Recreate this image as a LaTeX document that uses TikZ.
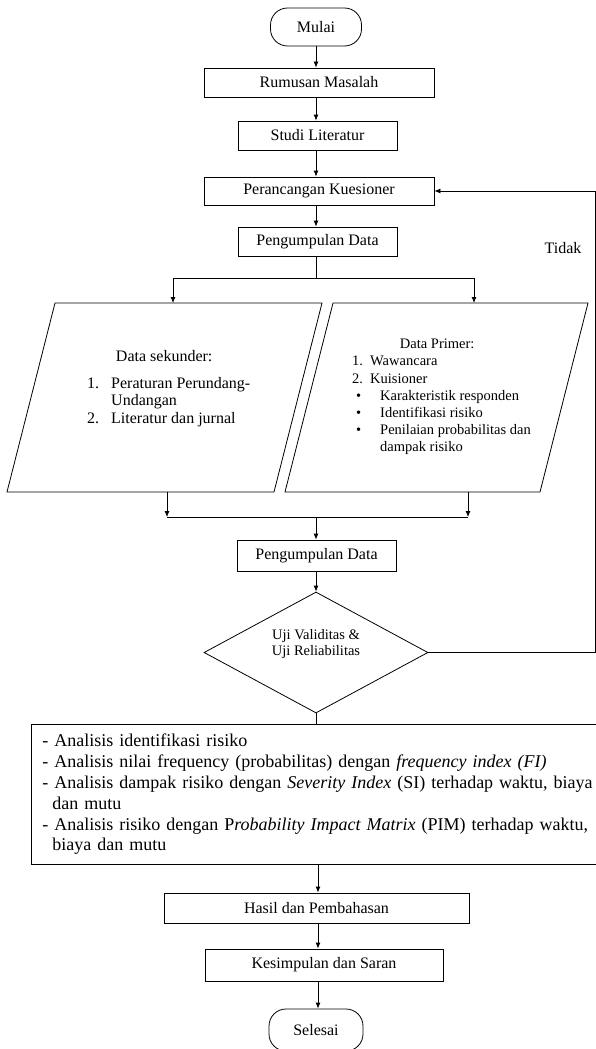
\documentclass[tikz,border=0pt]{standalone}
\usepackage{fontspec}
\setmainfont{Liberation Serif}
\usetikzlibrary{shapes.geometric,arrows.meta}
\begin{document}
\begin{tikzpicture}[x=1pt,y=-1pt,
  ln/.style={line width=0.8pt},
  box/.style={draw, ln, inner sep=0pt, font=\fontsize{16}{18}\selectfont},
  term/.style={box, rounded corners=17pt},
  arr/.style={ln, -{Latex[length=6pt,width=5pt]}},
  txt/.style={inner sep=0pt, align=left, anchor=west}]
\useasboundingbox (0,0) rectangle (596,1049);

\coordinate (ax) at (316,0);
\coordinate (ax2) at (318,0);

% top chain
\node[term, minimum width=91, minimum height=38] (mulai) at (316,27) {Mulai};
\node[box, minimum width=230, minimum height=29] (rumusan) at (319,82.5) {Rumusan Masalah};
\node[box, minimum width=159, minimum height=29] (studi) at (317.5,135.5) {Studi Literatur};
\node[box, minimum width=230, minimum height=28] (peran) at (319,191) {Perancangan Kuesioner};
\node[box, minimum width=159, minimum height=29] (peng1) at (317.5,241.5) {Pengumpulan Data};
\node[inner sep=0pt, font=\fontsize{16}{18}\selectfont] (tidak) at (563,248) {Tidak};

\draw[arr] (ax |- mulai.south) -- (ax |- rumusan.north);
\draw[arr] (ax |- rumusan.south) -- (ax |- studi.north);
\draw[arr] (ax |- studi.south) -- (ax |- peran.north);
\draw[arr] (ax |- peran.south) -- (ax |- peng1.north);

% split
\coordinate (split) at (316,278);
\coordinate (sl) at (173,278);
\coordinate (sr) at (474,278);
\coordinate (sekIn) at (173,303);
\coordinate (priIn) at (474,303);
\draw[ln] (ax |- peng1.south) -- (split);
\draw[ln] (sl) -- (sr);
\draw[arr] (sl) -- (sekIn);
\draw[arr] (sr) -- (priIn);

% parallelograms
\draw[ln] (55,303) -- (322,303) -- (274,492) -- (7,492) -- cycle;
\draw[ln] (333,303) -- (588,303) -- (540,492) -- (285,492) -- cycle;

\node[txt, font=\fontsize{16}{17.5}\selectfont] (sekunder) at (87,389)
 {\begin{tabular}{@{}p{24pt}@{}l@{}}
  \multicolumn{2}{@{}l@{}}{\makebox[154pt][c]{Data sekunder:}}\\[9pt]
  1. & Peraturan Perundang-\\
     & Undangan\\
  2. & Literatur dan jurnal
  \end{tabular}};

\node[txt, font=\fontsize{14.5}{17.2}\selectfont] (primer) at (352,397)
 {\makebox[170pt][c]{Data Primer:}\\
  \makebox[18pt][l]{1.}Wawancara\\
  \makebox[18pt][l]{2.}Kuisioner\\
  \makebox[4pt][l]{}\makebox[24pt][l]{\textbullet}Karakteristik responden\\
  \makebox[4pt][l]{}\makebox[24pt][l]{\textbullet}Identifikasi risiko\\
  \makebox[4pt][l]{}\makebox[24pt][l]{\textbullet}Penilaian probabilitas dan\\
  \makebox[28pt][l]{}dampak risiko};

% join
\coordinate (sekOut) at (167,492);
\coordinate (priOut) at (468,492);
\coordinate (jl) at (167,517);
\coordinate (jr) at (468,517);
\coordinate (jc) at (316,517);
\draw[arr] (sekOut) -- (jl);
\draw[arr] (priOut) -- (jr);
\draw[ln] (jl) -- (jr);

\node[box, minimum width=159, minimum height=31] (peng2) at (316.5,555.5) {Pengumpulan Data};
\draw[arr] (jc) -- (jc |- peng2.north);

% decision
\node[draw, ln, diamond, aspect=1.85, minimum width=224, minimum height=121, inner sep=0pt] (uji) at (316,652.5) {};
\node[inner sep=0pt, align=center, font=\fontsize{14.5}{16}\selectfont] (ujitxt) at (316,644) {Uji Validitas \&\\Uji Reliabilitas};
\draw[arr] (ax |- peng2.south) -- (uji.north);

% feedback loop
\coordinate (fbr) at (595.8,652.5);
\draw[arr] (uji.east) -- (fbr) -- (fbr |- peran.east) -- (peran.east);

% analysis
\node[draw, ln, anchor=north west, text width=547pt, inner xsep=11pt, inner ysep=0pt,
      minimum height=140pt, align=left, font=\fontsize{18}{20.8}\selectfont] (anal) at (31,724)
 {- Analisis identifikasi risiko\\
  - Analisis nilai frequency (probabilitas) dengan \textit{frequency index (FI)}\\
  \makebox[547pt][s]{- Analisis dampak risiko dengan \textit{Severity Index} (SI) terhadap waktu, biaya}\\
  \makebox[10pt][l]{}dan mutu\\
  \makebox[547pt][s]{- Analisis risiko dengan P\textit{robability Impact Matrix} (PIM) terhadap waktu,}\\
  \makebox[10pt][l]{}biaya dan mutu};
\draw[ln] (uji.south) -- (uji.south |- anal.north);

% bottom chain
\node[box, minimum width=305, minimum height=30] (hasil) at (316.5,908) {Hasil dan Pembahasan};
\node[box, minimum width=238, minimum height=32] (kes) at (324,965) {Kesimpulan dan Saran};
\node[term, minimum width=94, minimum height=42] (selesai) at (316,1030) {Selesai};

\draw[arr] (ax2 |- anal.south) -- (ax2 |- hasil.north);
\draw[arr] (ax2 |- hasil.south) -- (ax2 |- kes.north);
\draw[arr] (ax2 |- kes.south) -- (ax2 |- selesai.north);
\end{tikzpicture}
\end{document}
